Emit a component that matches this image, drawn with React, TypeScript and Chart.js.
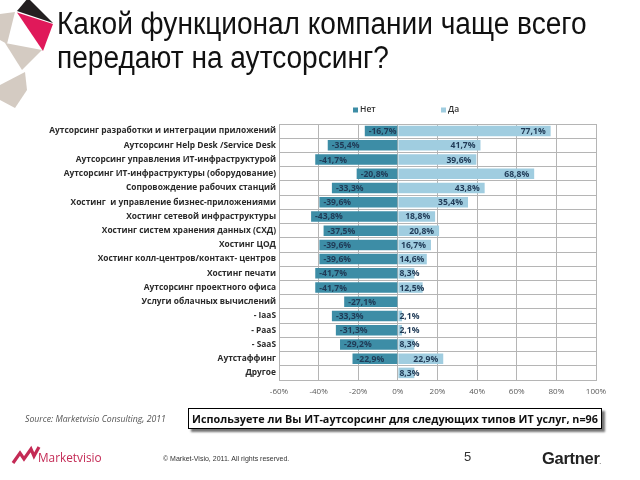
import React, { useEffect, useRef } from 'react';
import { Chart, registerables } from 'chart.js';

Chart.register(...registerables);

const categories = [
  'Аутсорсинг разработки и интеграции приложений',
  'Аутсорсинг Help Desk /Service Desk',
  'Аутсорсинг управления ИТ-инфраструктурой',
  'Аутсорсинг ИТ-инфраструктуры (оборудование)',
  'Сопровождение рабочих станций',
  'Хостинг  и управление бизнес-приложениями',
  'Хостинг сетевой инфраструктуры',
  'Хостинг систем хранения данных (СХД)',
  'Хостинг ЦОД',
  'Хостинг колл-центров/контакт- центров',
  'Хостинг печати',
  'Аутсорсинг проектного офиса',
  'Услуги облачных вычислений',
  '- IaaS',
  '- PaaS',
  '- SaaS',
  'Аутстаффинг',
  'Другое',
];

const seriesNames = ['Нет', 'Да'];

const noValues: (number | null)[] = [
  -16.7, -35.4, -41.7, -20.8, -33.3, -39.6, -43.8, -37.5, -39.6, -39.6, -41.7, -41.7, -27.1, -33.3, -31.3, -29.2, -22.9, null,
];

const yesValues: (number | null)[] = [
  77.1, 41.7, 39.6, 68.8, 43.8, 35.4, 18.8, 20.8, 16.7, 14.6, 8.3, 12.5, null, 2.1, 2.1, 8.3, 22.9, 8.3,
];

const xMin = -60;
const xMax = 100;
const xStep = 20;

const NO_COLOR = '#3d8da6';
const YES_COLOR = '#a0cde0';
const GRID = '#b5b5b5';

const fmt = (v: number) => v.toFixed(1).replace('.', ',') + '%';

const barLabels = {
  id: 'barLabels',
  afterDatasetsDraw(chart: any) {
    const ctx = chart.ctx;
    ctx.save();
    ctx.font = 'bold 8.6px "Open Sans"';
    ctx.fillStyle = '#1f3a56';
    ctx.textBaseline = 'middle';
    ctx.textAlign = 'left';
    chart.data.datasets.forEach((ds: any, di: number) => {
      const meta = chart.getDatasetMeta(di);
      meta.data.forEach((el: any, i: number) => {
        const v = ds.data[i];
        if (v == null) return;
        const t = fmt(v);
        const w = ctx.measureText(t).width;
        const { x, y, base } = el.getProps(['x', 'y', 'base'], true);
        let tx: number;
        if (v < 0) tx = Math.min(x + 4, base - 1 - w);
        else tx = Math.max(x - 5 - w, base + 1);
        ctx.fillText(t, tx, y + 0.5);
      });
    });
    ctx.restore();
  },
};

const customLegend = {
  id: 'customLegend',
  afterDraw(chart: any) {
    const ctx = chart.ctx;
    const { left, top } = chart.chartArea;
    const offsets = [74, 162];
    ctx.save();
    ctx.font = '600 8.5px "Open Sans"';
    ctx.textBaseline = 'middle';
    ctx.textAlign = 'left';
    chart.data.datasets.forEach((ds: any, i: number) => {
      const x = left + offsets[i];
      const y = top - 14;
      ctx.fillStyle = ds.backgroundColor;
      ctx.fillRect(x, y - 2.5, 5, 5);
      ctx.fillStyle = '#333';
      ctx.fillText(ds.label, x + 7, y);
    });
    ctx.restore();
  },
};

function ChartCanvas() {
  const ref = useRef<HTMLCanvasElement | null>(null);
  useEffect(() => {
    if (!ref.current) return;
    const chart = new Chart(ref.current, {
      type: 'bar',
      data: {
        labels: categories,
        datasets: [
          { label: seriesNames[0], data: noValues, backgroundColor: NO_COLOR, barPercentage: 0.74, categoryPercentage: 1 },
          { label: seriesNames[1], data: yesValues, backgroundColor: YES_COLOR, barPercentage: 0.74, categoryPercentage: 1 },
        ],
      },
      options: {
        indexAxis: 'y',
        responsive: false,
        animation: false,
        devicePixelRatio: 1,
        layout: { padding: { left: 0, top: 124, right: 44, bottom: 80 } },
        plugins: { legend: { display: false }, tooltip: { enabled: false } },
        scales: {
          x: {
            stacked: true,
            min: xMin,
            max: xMax,
            ticks: {
              stepSize: xStep,
              callback: (v: any) => v + '%',
              font: { family: 'Open Sans', size: 8 },
              color: '#595959',
              padding: 7,
              maxRotation: 0,
            },
            grid: { color: GRID, drawTicks: false },
            border: { color: GRID },
            afterFit: (s: any) => { s.height = 20; },
          },
          y: {
            stacked: true,
            ticks: {
              font: { family: 'Open Sans', size: 8.4, weight: 'bold' },
              color: '#2a2a2a',
              padding: 3,
              autoSkip: false,
            },
            grid: { color: GRID, drawTicks: false },
            border: { color: GRID },
            afterFit: (s: any) => { s.width = 279; },
          },
        },
      },
      plugins: [barLabels, customLegend],
    } as any);
    return () => chart.destroy();
  }, []);
  return <canvas ref={ref} width={640} height={480} style={{ position: 'absolute', left: 0, top: 0, width: 640, height: 480 }} />;
}

export default function App() {
  return (
    <div style={{ position: 'absolute', left: 0, top: 0, width: 640, height: 480, background: '#fff', overflow: 'hidden' }}>
      <svg width={60} height={120} style={{ position: 'absolute', left: 0, top: 0 }}>
        <polygon points="0,14 15,12 7,44 0,40" fill="#d4cbc2" />
        <polygon points="5,43 42,50 22,70" fill="#d4cbc2" />
        <polygon points="0,85 25,72 27,90 15,108 0,100" fill="#d4cbc2" />
        <polygon points="17,11 28,-2 53,23" fill="#231f20" />
        <polygon points="17,12.5 53,24 43,51" fill="#e0195a" />
      </svg>
      <ChartCanvas />
      <div
        style={{
          position: 'absolute',
          left: 57,
          top: 7,
          fontFamily: "'Liberation Sans', Arial, sans-serif",
          fontSize: 31,
          lineHeight: '34px',
          color: '#111',
          whiteSpace: 'nowrap',
          transform: 'scaleX(0.905)',
          transformOrigin: 'left top',
        }}
      >
        Какой функционал компании чаще всего
        <br />
        передают на аутсорсинг?
      </div>
      <div
        style={{
          position: 'absolute',
          left: 25,
          top: 412,
          fontFamily: "'Open Sans', sans-serif",
          fontStyle: 'italic',
          fontSize: 8.7,
          lineHeight: '14px',
          color: '#555',
          whiteSpace: 'nowrap',
        }}
      >
        Source: Marketvisio Consulting, 2011
      </div>
      <div
        style={{
          position: 'absolute',
          left: 188,
          top: 408,
          width: 412,
          height: 19,
          border: '1px solid #000',
          boxShadow: '3px 3px 2px rgba(0,0,0,0.55)',
          background: '#fff',
          fontFamily: "'Open Sans', sans-serif",
          fontWeight: 'bold',
          fontSize: 10.8,
          lineHeight: '19px',
          color: '#111',
          whiteSpace: 'nowrap',
          textAlign: 'center',
        }}
      >
        Используете ли Вы ИТ-аутсорсинг для следующих типов ИТ услуг, n=96
      </div>
      <svg width={40} height={24} style={{ position: 'absolute', left: 10, top: 444 }}>
        <polyline points="3,19 10,9 14,15 21,5 24,12 29,3" fill="none" stroke="#c42a55" strokeWidth={3.2} strokeLinejoin="miter" />
      </svg>
      <div
        style={{
          position: 'absolute',
          left: 38,
          top: 450,
          fontFamily: "'Open Sans', sans-serif",
          fontSize: 11.8,
          lineHeight: '15px',
          color: '#c42a55',
          whiteSpace: 'nowrap',
        }}
      >
        Marketvisio
      </div>
      <div
        style={{
          position: 'absolute',
          left: 163,
          top: 455,
          fontFamily: "'Liberation Sans', Arial, sans-serif",
          fontSize: 7,
          lineHeight: '8px',
          color: '#333',
          whiteSpace: 'nowrap',
        }}
      >
        © Market-Visio, 2011. All rights reserved.
      </div>
      <div
        style={{
          position: 'absolute',
          left: 464,
          top: 449,
          fontFamily: "'Liberation Sans', Arial, sans-serif",
          fontSize: 13,
          lineHeight: '16px',
          color: '#333',
        }}
      >
        5
      </div>
      <div
        style={{
          position: 'absolute',
          left: 542,
          top: 448,
          fontFamily: "'Liberation Sans', Arial, sans-serif",
          fontWeight: 'bold',
          fontSize: 16.5,
          lineHeight: '20px',
          color: '#222',
          letterSpacing: -0.3,
        }}
      >
        Gartner<span style={{ fontSize: 5 }}>.</span>
      </div>
    </div>
  );
}
